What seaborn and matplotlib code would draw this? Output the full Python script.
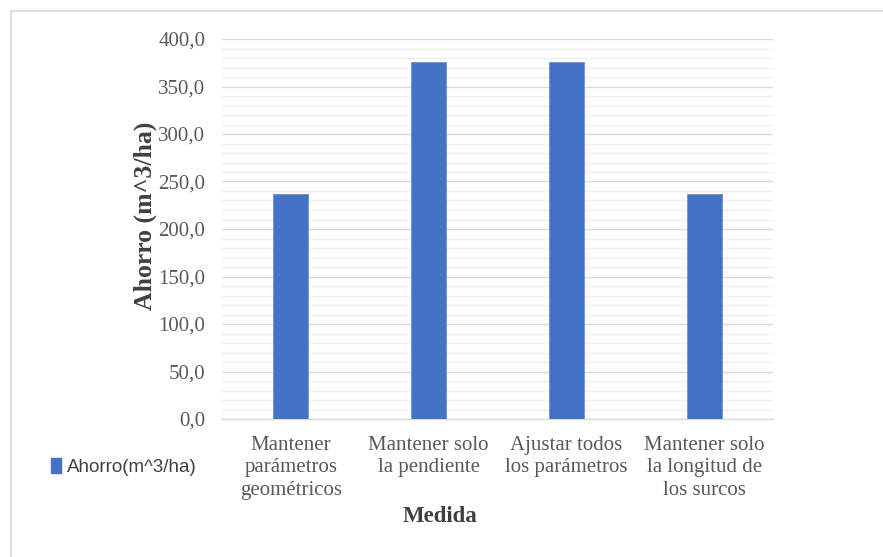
import matplotlib
matplotlib.use("Agg")
import matplotlib.pyplot as plt
from matplotlib.lines import Line2D
from matplotlib.patches import Patch
from matplotlib.ticker import MultipleLocator, FuncFormatter
import seaborn as sns
import pandas as pd

categories = [
    "Mantener\nparámetros\ngeométricos",
    "Mantener solo\nla pendiente",
    "Ajustar todos\nlos parámetros",
    "Mantener solo\nla longitud de\nlos surcos",
]
ahorro = [237.0, 376.0, 376.0, 237.0]
series_name = "Ahorro(m^3/ha)"

df = pd.DataFrame({"Medida": categories, "Ahorro": ahorro})

sns.set_theme(style="white")
plt.rcParams["font.family"] = ["Liberation Serif", "DejaVu Serif"]

W, H = 883, 557
fig = plt.figure(figsize=(W / 100, H / 100), dpi=100)
ax = fig.add_axes([222 / W, 1 - 419 / H, (773 - 222) / W, (419 - 39) / H])

bar_color = "#4472C4"
sns.barplot(data=df, x="Medida", y="Ahorro", color=bar_color, width=0.254,
            ax=ax, saturation=1, edgecolor="#6F92D4", linewidth=0.6, zorder=3)

ax.set_ylim(0, 400)
ax.set_xlim(-0.5, len(categories) - 0.5)
ax.yaxis.set_major_locator(MultipleLocator(50))
ax.yaxis.set_minor_locator(MultipleLocator(10))
ax.yaxis.set_major_formatter(FuncFormatter(lambda v, p: f"{v:.1f}".replace(".", ",")))
ax.grid(which="major", axis="y", color="#D9D9D9", linewidth=1.0, zorder=0)
ax.grid(which="minor", axis="y", color="#F0F0F0", linewidth=1.0, zorder=0)
ax.set_axisbelow(True)

for s in ["top", "right", "left"]:
    ax.spines[s].set_visible(False)
ax.spines["bottom"].set_color("#D9D9D9")
ax.spines["bottom"].set_linewidth(1.0)

ax.tick_params(axis="both", which="both", length=0)
ax.tick_params(axis="y", labelsize=15, labelcolor="#595959", pad=12)
ax.tick_params(axis="x", labelsize=15, labelcolor="#595959", pad=12)
for lab in ax.get_xticklabels():
    lab.set_linespacing(1.25)
    lab.set_va("top")

ax.set_xlabel("Medida", fontsize=16.5, fontweight="bold", color="#404040")
ax.set_ylabel("Ahorro (m^3/ha)", fontsize=18.5, fontweight="bold", color="#404040")
ax.xaxis.set_label_coords((440 - 222) / (773 - 222), -(516 - 419) / (419 - 39))
ax.xaxis.label.set_va("center")
ax.yaxis.set_label_coords(-(222 - 145) / (773 - 222), (419 - 216) / (419 - 39))
ax.yaxis.label.set_va("center")

handle = Patch(facecolor=bar_color, edgecolor=bar_color)
fig.legend([handle], [series_name], loc="center left",
           bbox_to_anchor=(34 / W, 1 - 467 / H), frameon=False,
           prop={"family": ["Liberation Sans", "DejaVu Sans"], "size": 13.5},
           handlelength=0.55, handleheight=0.8, handletextpad=0.3, labelcolor="#404040")

# chart area frame (top and left edges)
fig.add_artist(Line2D([11 / W, 1.0], [1 - 11 / H, 1 - 11 / H], color="#D9D9D9", linewidth=1.2))
fig.add_artist(Line2D([11 / W, 11 / W], [0.0, 1 - 11 / H], color="#D9D9D9", linewidth=1.2))

fig.savefig("out.png", dpi=100, facecolor="white")
